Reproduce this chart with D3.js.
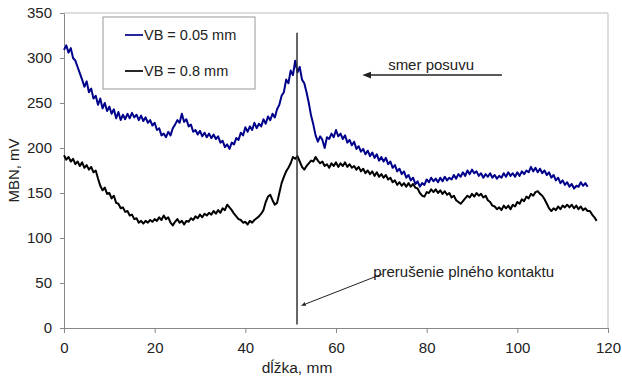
<!DOCTYPE html>
<html>
<head>
<meta charset="utf-8">
<script src="https://cdn.jsdelivr.net/npm/d3@7"></script>
<style>
  body { margin: 0; background: #fff; }
  svg text { font-family: "Liberation Sans", Arial, sans-serif; fill: #222; }
</style>
</head>
<body>
<svg id="chart" width="622" height="381"></svg>
<script>
// sampling step along the length axis (mm)
const step = 0.5;

// VB = 0.05 mm, MBN (mV) every 0.5 mm from 0
const mbnVB005 = [
  309, 314, 306, 311, 300, 297, 290, 283, 276, 268,
  274, 262, 266, 255, 258, 248, 255, 244, 250, 241,
  246, 238, 243, 233, 240, 231, 237, 232, 238, 233,
  239, 234, 237, 231, 236, 230, 234, 228, 231, 225,
  228, 220, 222, 214, 216, 212, 218, 214, 222, 226,
  231, 228, 238, 229, 232, 224, 226, 218, 220, 215,
  219, 213, 217, 212, 216, 211, 215, 210, 213, 206,
  208, 201, 204, 199, 206, 204, 211, 209, 217, 214,
  223, 218, 224, 220, 228, 222, 227, 224, 232, 227,
  235, 231, 238, 234, 243, 248, 258, 262, 276, 272,
  286, 281, 297, 284, 290, 276, 272, 262, 250, 236,
  226, 214, 207, 213, 209, 200, 212, 210, 216, 212,
  220, 213, 216, 210, 214, 206, 209, 203, 207, 199,
  202, 196, 199, 193, 197, 191, 195, 189, 193, 186,
  190, 185, 189, 182, 185, 178, 181, 174, 177, 171,
  174, 167, 170, 164, 167, 160, 163, 157, 161, 159,
  165, 162, 167, 163, 166, 162, 167, 163, 168, 164,
  167, 165, 170, 166, 171, 168, 173, 169, 175, 171,
  176, 172, 174, 169, 172, 167, 171, 168, 172, 167,
  170, 166, 169, 167, 172, 168, 173, 169, 172, 168,
  173, 169, 174, 171, 175, 173, 179, 174, 178, 173,
  177, 172, 175, 170, 173, 167, 170, 164, 167, 161,
  164, 159, 162, 157, 160, 155, 158, 157, 162, 158,
  161, 157
];

// VB = 0.8 mm, MBN (mV) every 0.5 mm from 0
const mbnVB08 = [
  192, 187, 190, 185, 188, 182, 185, 180, 184, 178,
  181, 176, 179, 173, 175, 166, 158, 153, 156, 149,
  150, 144, 147, 139, 138, 133, 134, 129, 130, 125,
  126, 121, 122, 117, 119, 116, 119, 117, 120, 118,
  121, 119, 123, 120, 125, 121, 123, 117, 114, 118,
  121, 117, 119, 115, 119, 118, 122, 120, 124, 122,
  126, 123, 127, 125, 128, 126, 130, 127, 131, 128,
  133, 131, 137, 134, 131, 127, 124, 121, 120, 117,
  118, 115, 119, 117, 120, 122, 124, 127, 131, 140,
  146, 148, 142, 137, 139, 150, 161, 168, 174, 178,
  183, 190, 188, 191, 185, 179, 176, 180, 183, 186,
  185, 190, 186, 183, 185, 180, 182, 178, 183, 180,
  184, 179, 183, 180, 184, 179, 182, 178, 180, 176,
  179, 174, 177, 172, 175, 171, 174, 169, 173, 168,
  171, 167, 170, 165, 167, 162, 164, 159, 162, 158,
  161, 157, 161, 157, 160, 156, 155, 150, 147, 146,
  151, 150, 154, 151, 154, 150, 153, 149, 152, 148,
  150, 145, 147, 142, 140, 138, 141, 144, 147, 145,
  149, 146, 150, 147, 149, 145, 147, 142, 140, 136,
  135, 132, 134, 131, 136, 133, 136, 132, 137, 135,
  140, 138, 143, 141, 146, 144, 149, 147, 151, 152,
  149, 147, 143, 138, 133, 130, 133, 131, 135, 132,
  136, 134, 137, 134, 137, 133, 136, 132, 135, 131,
  133, 130, 130, 126, 123, 119
];

const seriesNames = ['VB = 0.05 mm', 'VB = 0.8 mm'];
const seriesColors = ['#00008b', '#000000'];
const xTicks = [0, 20, 40, 60, 80, 100, 120];
const yTicks = [0, 50, 100, 150, 200, 250, 300, 350];
const xTitle = 'dĺžka, mm';
const yTitle = 'MBN, mV';
const contactBreak = 51.4;   // mm, loss of full contact
const feedLabel = 'smer posuvu';
const contactLabel = 'prerušenie plného kontaktu';

const svg = d3.select('#chart');
const margin = { top: 13, right: 14, bottom: 53, left: 64 };
const width = 622 - margin.left - margin.right;
const height = 381 - margin.top - margin.bottom;

const x = d3.scaleLinear().domain([0, 120]).range([0, width]);
const y = d3.scaleLinear().domain([0, 350]).range([height, 0]);

const defs = svg.append('defs');
defs.append('marker')
  .attr('id', 'arrow')
  .attr('viewBox', '0 0 10 10')
  .attr('refX', 1).attr('refY', 5)
  .attr('markerWidth', 6).attr('markerHeight', 6)
  .attr('orient', 'auto-start-reverse')
  .append('path')
  .attr('d', 'M0,1 L10,5 L0,9 z')
  .attr('fill', '#222');
defs.append('marker')
  .attr('id', 'smallArrow')
  .attr('viewBox', '0 0 10 10')
  .attr('refX', 1).attr('refY', 5)
  .attr('markerWidth', 5).attr('markerHeight', 5)
  .attr('orient', 'auto-start-reverse')
  .append('path')
  .attr('d', 'M0,1 L10,5 L0,9 z')
  .attr('fill', '#222');

const g = svg.append('g').attr('transform', `translate(${margin.left},${margin.top})`);

// frame top/right
g.append('path')
  .attr('d', `M0,0 H${width} V${height}`)
  .attr('fill', 'none')
  .attr('stroke', '#bdbdbd')
  .attr('stroke-width', 1);

const yAxis = g.append('g')
  .call(d3.axisLeft(y).tickValues(yTicks).tickSize(4).tickSizeOuter(0).tickPadding(8));
const xAxis = g.append('g')
  .attr('transform', `translate(0,${height})`)
  .call(d3.axisBottom(x).tickValues(xTicks).tickSize(5).tickSizeOuter(0).tickPadding(9));

[yAxis, xAxis].forEach((ax) => {
  ax.select('.domain').attr('stroke', '#888');
  ax.selectAll('.tick line').attr('stroke', '#888');
  ax.selectAll('.tick text')
    .attr('fill', '#222')
    .style('font-size', '15px')
    .style('font-family', '"Liberation Sans", Arial, sans-serif');
});

// axis titles
svg.append('text')
  .attr('transform', `translate(19,${margin.top + height / 2}) rotate(-90)`)
  .attr('text-anchor', 'middle')
  .style('font-size', '15px')
  .text(yTitle);
svg.append('text')
  .attr('x', 297)
  .attr('y', 373)
  .attr('text-anchor', 'middle')
  .style('font-size', '15.5px')
  .text(xTitle);

// data lines
const line = d3.line()
  .x((d, i) => x(i * step))
  .y((d) => y(d));

[mbnVB005, mbnVB08].forEach((vals, k) => {
  g.append('path')
    .datum(vals)
    .attr('fill', 'none')
    .attr('stroke', seriesColors[k])
    .attr('stroke-width', 2)
    .attr('stroke-linejoin', 'round')
    .attr('d', line);
});

// vertical marker at the contact break
g.append('line')
  .attr('x1', x(contactBreak)).attr('x2', x(contactBreak))
  .attr('y1', y(328)).attr('y2', y(4))
  .attr('stroke', '#333')
  .attr('stroke-width', 1.5);

// feed direction arrow
g.append('line')
  .attr('x1', x(96.6)).attr('x2', x(67.6))
  .attr('y1', y(281)).attr('y2', y(281))
  .attr('stroke', '#222')
  .attr('stroke-width', 1.5)
  .attr('marker-end', 'url(#arrow)');
g.append('text')
  .attr('x', x(71.5))
  .attr('y', y(287))
  .style('font-size', '15px')
  .text(feedLabel);

// contact annotation
g.append('line')
  .attr('x1', x(70.2)).attr('x2', x(53.2))
  .attr('y1', y(60)).attr('y2', y(26.5))
  .attr('stroke', '#222')
  .attr('stroke-width', 1)
  .attr('marker-end', 'url(#smallArrow)');
g.append('text')
  .attr('x', x(68.2))
  .attr('y', y(56.5))
  .style('font-size', '15px')
  .text(contactLabel);

// legend
const legend = svg.append('g').attr('transform', 'translate(103,17)');
legend.append('rect')
  .attr('width', 152).attr('height', 72)
  .attr('fill', '#fff')
  .attr('stroke', '#999')
  .attr('stroke-width', 1);
seriesNames.forEach((name, k) => {
  const row = legend.append('g').attr('transform', `translate(0,${18 + k * 36})`);
  row.append('line')
    .attr('x1', 22).attr('x2', 40)
    .attr('stroke', seriesColors[k])
    .attr('stroke-width', 1.7);
  row.append('text')
    .attr('x', 41)
    .attr('dy', '0.35em')
    .style('font-size', '14.5px')
    .text(name);
});
</script>
</body>
</html>
